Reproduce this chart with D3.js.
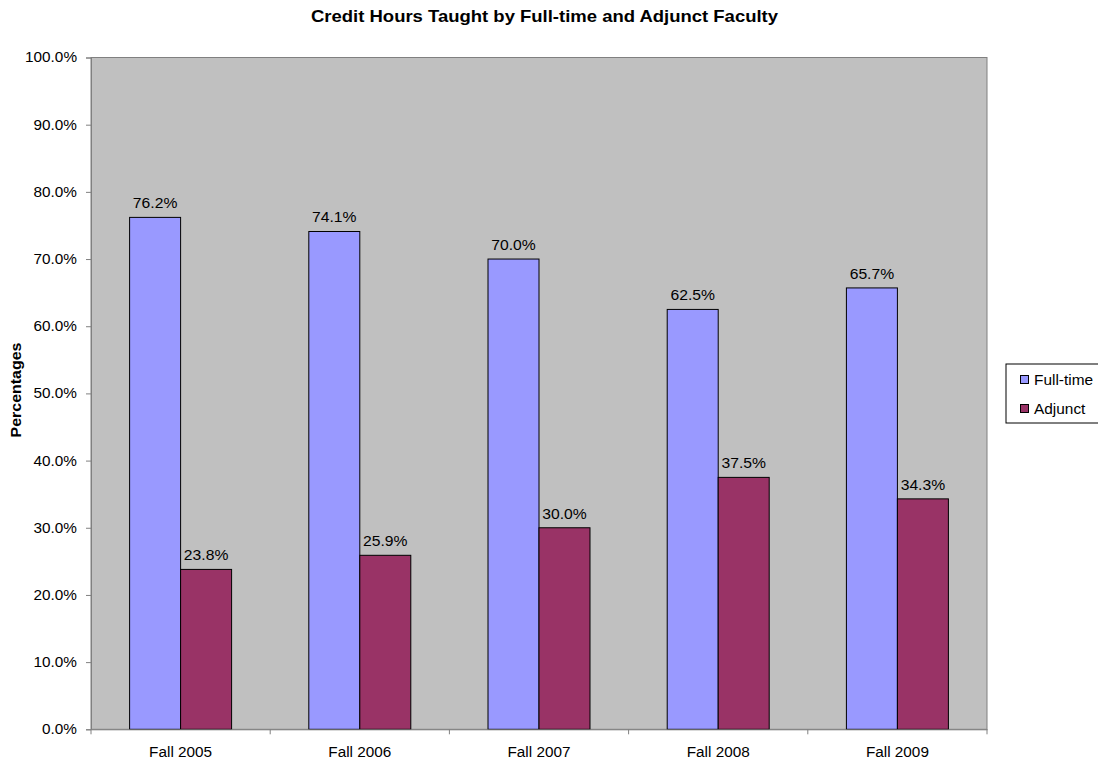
<!DOCTYPE html>
<html><head><meta charset="utf-8">
<script src="https://cdn.jsdelivr.net/npm/d3@7"></script>
<style>body{margin:0;background:#fff;} text{font-family:"Liberation Sans",Arial,sans-serif;}</style>
</head><body><svg id="c" width="1098" height="762"></svg>
<script>
const categories = ["Fall 2005","Fall 2006","Fall 2007","Fall 2008","Fall 2009"];
const seriesNames = ["Full-time","Adjunct"];
const fullTime = [76.2,74.1,70.0,62.5,65.7];
const adjunct = [23.8,25.9,30.0,37.5,34.3];
const colors = ["#9999FF","#993366"];
const yTicks = [0,10,20,30,40,50,60,70,80,90,100];

const svg = d3.select("#c");
const L=91,R=987,T=57.5,B=729.3;
const x = d3.scaleBand().domain(categories).range([L,R]);
const y = d3.scaleLinear().domain([0,100]).range([B,T]);
const inner = d3.scaleBand().domain(seriesNames).range([0, x.bandwidth()]).paddingInner(0).paddingOuter(0.757);

function stretch(sel, f){
  sel.each(function(){
    const len = this.getComputedTextLength();
    d3.select(this).attr("textLength", len*f).attr("lengthAdjust","spacingAndGlyphs");
  });
}

svg.append("rect").attr("x",L).attr("y",T).attr("width",R-L).attr("height",B-T)
  .attr("fill","#C0C0C0").attr("stroke","#808080").attr("stroke-width",1);

const data = categories.map((c,i)=>({c, vals:[fullTime[i],adjunct[i]]}));
const g = svg.append("g");
data.forEach(d=>{
  d.vals.forEach((v,j)=>{
    const bx = x(d.c)+inner(seriesNames[j]);
    g.append("rect").attr("x",bx).attr("y",y(v)).attr("width",inner.bandwidth()).attr("height",y(0)-y(v))
      .attr("fill",colors[j]).attr("stroke","#000").attr("stroke-width",1);
    g.append("text").attr("class","dl").attr("x",bx+inner.bandwidth()/2).attr("y",y(v)-9).attr("text-anchor","middle")
      .attr("font-size",14).attr("fill","#000").text(v.toFixed(1)+"%");
  });
});
stretch(g.selectAll("text.dl"),1.12);

const yAxis = d3.axisLeft(y).tickValues(yTicks).tickSize(5).tickPadding(9).tickFormat(d=>d.toFixed(1)+"%");
const ya = svg.append("g").attr("transform",`translate(${L},0)`).call(yAxis);
ya.selectAll("text").attr("font-size",14).attr("fill","#000").style("font-family","'Liberation Sans',Arial,sans-serif");
ya.selectAll("line,path").attr("stroke","#808080");
stretch(ya.selectAll("text"),1.095);

const xAxis = d3.axisBottom(x).tickSize(0).tickPadding(18);
const xa = svg.append("g").attr("transform",`translate(0,${B})`).call(xAxis);
xa.selectAll("text").attr("font-size",14).attr("fill","#000").style("font-family","'Liberation Sans',Arial,sans-serif");
xa.select("path").attr("stroke","#808080");
xa.selectAll(".tick line").remove();
stretch(xa.selectAll("text"),1.094);
const bounds = categories.map(c=>x(c)).concat([R]);
svg.append("g").selectAll("line").data(bounds).join("line")
  .attr("x1",d=>d).attr("x2",d=>d).attr("y1",B).attr("y2",B+5).attr("stroke","#808080");

svg.append("text").attr("x",544.5).attr("y",22).attr("text-anchor","middle").attr("font-size",17).attr("font-weight","bold")
  .attr("textLength",467).attr("lengthAdjust","spacingAndGlyphs").text("Credit Hours Taught by Full-time and Adjunct Faculty");
svg.append("text").attr("transform",`translate(21,390) rotate(-90)`).attr("text-anchor","middle").attr("font-size",14).attr("font-weight","bold")
  .attr("textLength",95).attr("lengthAdjust","spacingAndGlyphs").text("Percentages");

const lg = svg.append("g");
lg.append("rect").attr("x",1006).attr("y",364).attr("width",100).attr("height",59).attr("fill","#fff").attr("stroke","#000").attr("stroke-width",1);
seriesNames.forEach((s,i)=>{
  lg.append("rect").attr("x",1020.5).attr("y",375.5+i*29).attr("width",8).attr("height",8).attr("fill",colors[i]).attr("stroke","#000");
  lg.append("text").attr("class","lt").attr("x",1034).attr("y",385+i*29).attr("font-size",14).text(s);
});
stretch(lg.selectAll("text.lt"),1.1);
</script></body></html>
